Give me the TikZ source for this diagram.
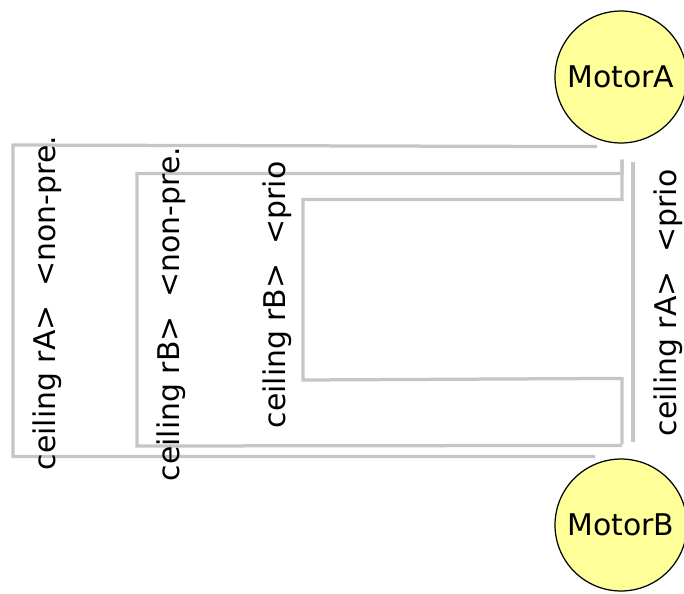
\documentclass[tikz,border=0pt]{standalone}
\usepackage{fontspec}
\usepackage{xcolor}
\usepackage{tikz}
\usetikzlibrary{positioning,calc}

\newfontfamily\labelfont{DejaVu Sans}
\definecolor{edgegray}{RGB}{198,198,198}
\definecolor{motoryellow}{RGB}{255,255,153}

\begin{document}
\begin{tikzpicture}[
    x=0.02cm, y=-0.02cm,
    motor/.style={circle, draw=black, line width=0.7pt, fill=motoryellow,
      minimum size=2.64cm, inner sep=0pt, font=\labelfont\fontsize{17}{20}\selectfont},
    edge/.style={draw=edgegray, line width=0.065cm},
    lbl/.style={rotate=90, inner sep=0pt, font=\labelfont\fontsize{17}{20}\selectfont}
  ]
  \useasboundingbox (0,0) rectangle (684,593);

  % Motors
  \node[motor] (MotorA) at (621,77)  {MotorA};
  \node[motor] (MotorB) at (621,525) {MotorB};

  % Edges
  \draw[edge] ([shift={(-24,3)}]MotorA.south) -- (13,145)
    |- ([shift={(-26,-2)}]MotorB.north);
  \draw[edge] ([shift={(1,16)}]MotorA.south) -- ++(0,14) -| (137,446)
    -- ([shift={(1,-13)}]MotorB.north);
  \draw[edge] ([shift={(1,16)}]MotorA.south) -- ++(0,40) -| (303,380)
    -- ([shift={(1,-80)}]MotorB.north) -- ([shift={(1,-14)}]MotorB.north);
  \draw[edge] ([shift={(12,18)}]MotorA.south) -- ([shift={(12,-16)}]MotorB.north);

  % Labels
  \node[lbl] (l1) at (47,303)  {ceiling rA>\ \ <non-pre.};
  \node[lbl] (l2) at (171,314) {ceiling rB>\ \ <non-pre.};
  \node[lbl] (l3) at (277,295) {ceiling rB>\ \ <prio};
  \node[lbl] (l4) at (668,303) {ceiling rA>\ \ <prio};
\end{tikzpicture}
\end{document}
